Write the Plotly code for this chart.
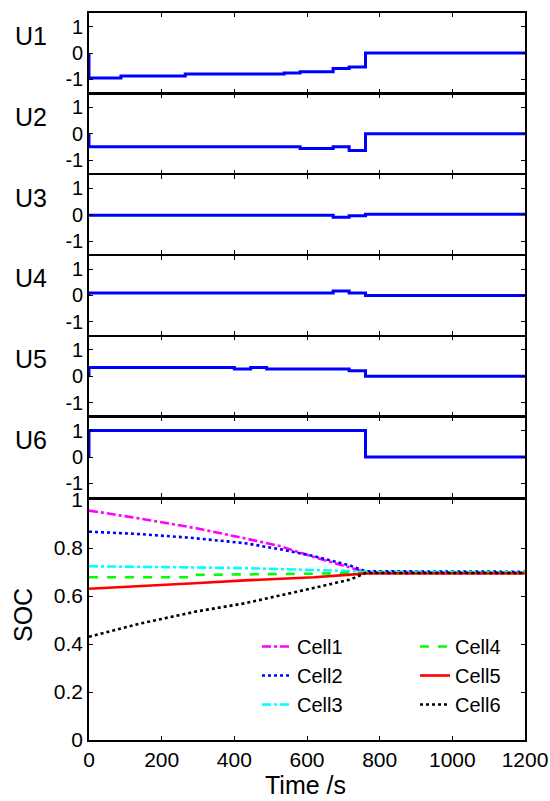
import plotly.graph_objects as go

W, H = 550, 801
FONT = "Liberation Sans, Arial, sans-serif"

# ---- control signals U1..U6 (held values between switching times, s) ----
u1_t = [0, 0, 88, 265, 537, 581, 672, 716, 761, 1200]
u1_v = [0, -0.95, -0.87, -0.80, -0.76, -0.71, -0.59, -0.53, 0, 0]

u2_t = [0, 0, 581, 672, 716, 761, 1200]
u2_v = [0, -0.49, -0.56, -0.49, -0.63, 0, 0]

u3_t = [0, 0, 672, 716, 761, 1200]
u3_v = [0, -0.02, -0.10, -0.04, 0.01, 0.01]

u4_t = [0, 0, 672, 716, 761, 1200]
u4_v = [0, 0.09, 0.17, 0.09, 0, 0]

u5_t = [0, 0, 400, 445, 489, 716, 761, 1200]
u5_v = [0, 0.33, 0.27, 0.33, 0.27, 0.21, 0, 0]

u6_t = [0, 0, 761, 1200]
u6_v = [0, 1, 0, 0]

u_names = ["U1", "U2", "U3", "U4", "U5", "U6"]
u_series = [(u1_t, u1_v), (u2_t, u2_v), (u3_t, u3_v),
            (u4_t, u4_v), (u5_t, u5_v), (u6_t, u6_v)]

# ---- state of charge of the six cells ----
soc_t = [0, 140, 285, 290, 430, 525, 620, 720, 761, 1200]
cell1 = [0.956, 0.923, 0.885, 0.884, 0.840, 0.808, 0.762, 0.716, 0.700, 0.698]
cell2 = [0.868, 0.858, 0.842, 0.841, 0.820, 0.795, 0.766, 0.726, 0.703, 0.701]
cell3 = [0.724, 0.723, 0.722, 0.719, 0.716, 0.713, 0.709, 0.704, 0.700, 0.699]
cell4 = [0.678, 0.678, 0.678, 0.688, 0.689, 0.690, 0.693, 0.696, 0.697, 0.697]
cell5 = [0.630, 0.640, 0.652, 0.653, 0.665, 0.672, 0.678, 0.689, 0.694, 0.694]
cell6 = [0.430, 0.485, 0.532, 0.534, 0.570, 0.601, 0.634, 0.669, 0.696, 0.696]

cell_names = ["Cell1", "Cell2", "Cell3", "Cell4", "Cell5", "Cell6"]
cell_values = [cell1, cell2, cell3, cell4, cell5, cell6]
cell_colors = ["#FF00FF", "#0000FF", "#00FFFF", "#00FF00", "#FF0000", "#000000"]
cell_dash = ["dashdot", "dot", "dashdot", "dash", "solid", "dot"]
cell_legend = ["legend", "legend", "legend", "legend2", "legend2", "legend2"]

x_ticks = [0, 200, 400, 600, 800, 1000, 1200]
u_ticks = [-1, 0, 1]
soc_ticks = [0, 0.2, 0.4, 0.6, 0.8, 1]

# ---- layout geometry (pixels) ----
X0, X1 = 89, 525
U_CENTER0, U_STEP, U_HALF = 53, 80.8, 39.6
SOC_TOP, SOC_BOT = 500, 740


def ydom(top, bot):
    return [1 - bot / H, 1 - top / H]


fig = go.Figure()

axis_common = dict(
    showline=True, linecolor="black", linewidth=1.6, mirror="ticks",
    ticks="inside", ticklen=4, tickwidth=1, tickcolor="black",
    showgrid=False, zeroline=False, automargin=False,
    tickfont=dict(family=FONT, size=20, color="black"),
)

layout = dict(
    width=W, height=H,
    margin=dict(l=0, r=0, t=0, b=0, pad=0, autoexpand=False),
    paper_bgcolor="white", plot_bgcolor="white",
    font=dict(family=FONT, color="black"),
    annotations=[],
)

for i, (name, (tt, vv)) in enumerate(zip(u_names, u_series)):
    k = i + 1
    xa = "x" if k == 1 else f"x{k}"
    ya = "y" if k == 1 else f"y{k}"
    fig.add_trace(go.Scatter(
        x=tt, y=vv, mode="lines", line=dict(color="#0000FF", width=3, shape="hv"),
        xaxis=xa, yaxis=ya, showlegend=False, hoverinfo="skip"))
    c = U_CENTER0 + U_STEP * i
    layout["xaxis" if k == 1 else f"xaxis{k}"] = dict(
        axis_common, domain=[X0 / W, X1 / W], range=[0, 1200],
        tickvals=x_ticks, showticklabels=False, anchor=ya)
    layout["yaxis" if k == 1 else f"yaxis{k}"] = dict(
        axis_common, domain=ydom(c - U_HALF, c + U_HALF), range=[-1.5, 1.5],
        tickvals=u_ticks, ticktext=[str(v) for v in u_ticks], anchor=xa)
    layout["annotations"].append(dict(
        text=name, x=31 / W, y=1 - (c - 17) / H, xref="paper", yref="paper",
        showarrow=False, xanchor="center", yanchor="middle",
        font=dict(family=FONT, size=25, color="black")))

# SOC panel
for name, vals, col, dash, lg in zip(cell_names, cell_values, cell_colors,
                                     cell_dash, cell_legend):
    fig.add_trace(go.Scatter(
        x=soc_t, y=vals, mode="lines", name=name,
        line=dict(color=col, width=2.6, dash=dash),
        xaxis="x7", yaxis="y7", legend=lg, hoverinfo="skip"))

layout["xaxis7"] = dict(
    axis_common, domain=[X0 / W, X1 / W], range=[0, 1200],
    tickvals=x_ticks, anchor="y7",
    tickfont=dict(family=FONT, size=21, color="black"))
layout["yaxis7"] = dict(
    axis_common, domain=ydom(SOC_TOP, SOC_BOT), range=[0, 1],
    tickvals=soc_ticks, ticktext=["0", "0.2", "0.4", "0.6", "0.8", "1"],
    anchor="x7", tickfont=dict(family=FONT, size=21, color="black"))

layout["annotations"].append(dict(
    text="SOC", x=23 / W, y=1 - 615 / H, xref="paper", yref="paper",
    showarrow=False, textangle=-90, xanchor="center", yanchor="middle",
    font=dict(family=FONT, size=25, color="black")))
layout["annotations"].append(dict(
    text="Time /s", x=305 / W, y=1 - 785 / H, xref="paper", yref="paper",
    showarrow=False, xanchor="center", yanchor="middle",
    font=dict(family=FONT, size=25, color="black")))

legend_style = dict(
    bgcolor="rgba(0,0,0,0)", borderwidth=0, orientation="v",
    xanchor="left", yanchor="top", tracegroupgap=0,
    font=dict(family=FONT, size=20, color="black"))
layout["legend"] = dict(legend_style, x=257 / W, y=1 - 627 / H)
layout["legend2"] = dict(legend_style, x=415 / W, y=1 - 627 / H)

fig.update_layout(**layout)
fig.write_html("out.html")
